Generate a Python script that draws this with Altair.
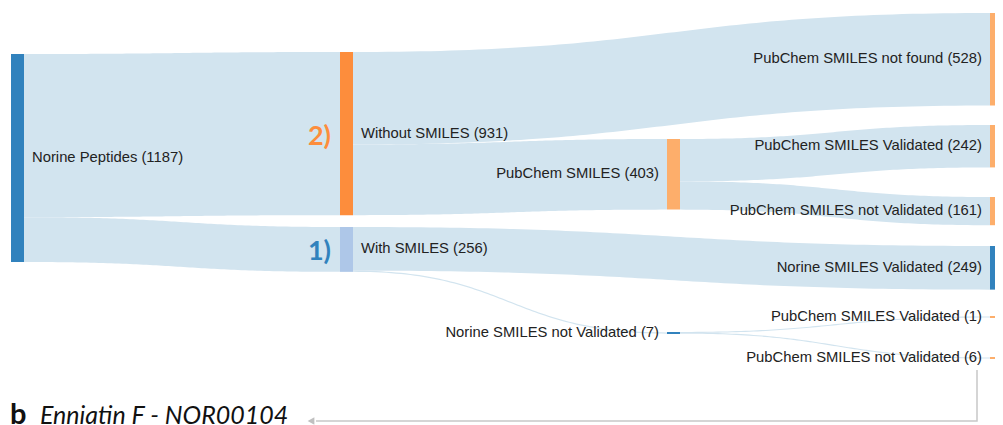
import altair as alt
import numpy as np
import pandas as pd

# ---------------- data ----------------
node_ids = ["norine", "without", "with", "pubchem", "norine_nv",
            "pc_notfound", "pc_val", "pc_nval", "norine_val", "pc_val_b", "pc_nval_b"]
node_labels = ["Norine Peptides", "Without SMILES", "With SMILES", "PubChem SMILES",
               "Norine SMILES not Validated", "PubChem SMILES not found",
               "PubChem SMILES Validated", "PubChem SMILES not Validated",
               "Norine SMILES Validated", "PubChem SMILES Validated",
               "PubChem SMILES not Validated"]

link_source = ["norine", "norine", "without", "without", "pubchem", "pubchem",
               "with", "with", "norine_nv", "norine_nv"]
link_target = ["without", "with", "pc_notfound", "pubchem", "pc_val", "pc_nval",
               "norine_val", "norine_nv", "pc_val_b", "pc_nval_b"]
link_value = [931, 256, 528, 403, 242, 161, 249, 7, 1, 6]

annot_nodes = ["without", "with"]
annot_texts = ["2)", "1)"]
caption_bold = "b"
caption_text = "Enniatin F - NOR00104"

# ---------------- style / layout ----------------
W, H = 987, 417
COL_X = [3, 332, 659, 982]   # left edge of each column of nodes
NODE_W = 13
K = 208 / 1187          # px per unit of flow
GAP_LABEL = 8
node_color = {
    "norine": "#3182bd", "without": "#fd8d3c", "with": "#aec7e8",
    "pubchem": "#fdae6b", "norine_nv": "#3182bd", "pc_notfound": "#fdae6b",
    "pc_val": "#fdae6b", "pc_nval": "#fdae6b", "norine_val": "#3182bd",
    "pc_val_b": "#fdae6b", "pc_nval_b": "#fdae6b",
}
annot_color = {"without": "#fd8d3c", "with": "#3182bd"}
# vertical placement of node tops (px from top of plot)
node_top = {
    "norine": 46, "without": 44, "with": 219, "pubchem": 131, "norine_nv": 324.4,
    "pc_notfound": 5, "pc_val": 117, "pc_nval": 189, "norine_val": 238,
    "pc_val_b": 308.9, "pc_nval_b": 349.5,
}
LINK_COLOR = "#d2e4ef"
FONT = "Liberation Sans"
FS = 14.8

# ---------------- layout computation ----------------
out_sum = {n: 0 for n in node_ids}
in_sum = {n: 0 for n in node_ids}
for s, t, v in zip(link_source, link_target, link_value):
    out_sum[s] += v
    in_sum[t] += v
node_value = {n: max(out_sum[n], in_sum[n]) for n in node_ids}

# depth (longest path from a source); sinks pushed to last column
depth = {n: 0 for n in node_ids}
changed = True
while changed:
    changed = False
    for s, t in zip(link_source, link_target):
        if depth[t] < depth[s] + 1:
            depth[t] = depth[s] + 1
            changed = True
max_depth = max(depth.values())
col = {n: (max_depth if out_sum[n] == 0 else depth[n]) for n in node_ids}

x_left = {n: COL_X[col[n]] for n in node_ids}
height = {n: node_value[n] * K for n in node_ids}

rows = []
for n, lab in zip(node_ids, node_labels):
    h = height[n]
    hd = max(h, 2.0)
    cy = node_top[n] + h / 2
    rows.append(dict(id=n, label=f"{lab} ({node_value[n]})", x=x_left[n],
                     x2=x_left[n] + NODE_W, y=cy - hd / 2, y2=cy + hd / 2,
                     cy=cy, color=node_color[n],
                     side="left" if x_left[n] < W / 2 else "right"))
nodes_df = pd.DataFrame(rows)
nodes_df["lx"] = np.where(nodes_df.side == "left", nodes_df.x2 + GAP_LABEL, nodes_df.x - GAP_LABEL)

# link bands
links = list(zip(link_source, link_target, link_value))
out_off = {n: 0.0 for n in node_ids}
in_off = {n: 0.0 for n in node_ids}
src_y, tgt_y = {}, {}
for n in node_ids:
    outs = sorted([i for i, l in enumerate(links) if l[0] == n], key=lambda i: node_top[links[i][1]])
    for i in outs:
        w = links[i][2] * K
        src_y[i] = node_top[n] + out_off[n] + w / 2
        out_off[n] += w
    ins = sorted([i for i, l in enumerate(links) if l[1] == n], key=lambda i: node_top[links[i][0]])
    for i in ins:
        w = links[i][2] * K
        tgt_y[i] = node_top[n] + in_off[n] + w / 2
        in_off[n] += w

t = np.linspace(0, 1, 80)
lrows = []
for i, (s, tg, v) in enumerate(links):
    x0 = x_left[s] + NODE_W
    x1 = x_left[tg]
    xm = (x0 + x1) / 2
    y0, y1 = src_y[i], tgt_y[i]
    w = max(v * K, 1.1)
    xs = (1 - t) ** 3 * x0 + 3 * (1 - t) ** 2 * t * xm + 3 * (1 - t) * t ** 2 * xm + t ** 3 * x1
    ys = (1 - t) ** 3 * y0 + 3 * (1 - t) ** 2 * t * y0 + 3 * (1 - t) * t ** 2 * y1 + t ** 3 * y1
    for xx, yy in zip(xs, ys):
        lrows.append(dict(link=i, x=xx, ylo=yy - w / 2, yhi=yy + w / 2))
links_df = pd.DataFrame(lrows)

xs_ = alt.Scale(domain=[0, W], nice=False, zero=False)
ys_ = alt.Scale(domain=[0, H], nice=False, zero=False, reverse=True)

link_layer = alt.Chart(links_df).mark_area(color=LINK_COLOR, opacity=1).encode(
    x=alt.X("x:Q", scale=xs_, axis=None),
    y=alt.Y("ylo:Q", scale=ys_, axis=None),
    y2="yhi:Q",
    detail="link:N",
)

node_layer = alt.Chart(nodes_df).mark_rect().encode(
    x=alt.X("x:Q", scale=xs_, axis=None), x2="x2:Q",
    y=alt.Y("y:Q", scale=ys_, axis=None), y2="y2:Q",
    color=alt.Color("color:N", scale=None),
)

label_left = alt.Chart(nodes_df).transform_filter(alt.datum.side == "left").mark_text(
    align="left", baseline="middle", font=FONT, fontSize=FS, color="#222222"
).encode(x=alt.X("lx:Q", scale=xs_, axis=None), y=alt.Y("cy:Q", scale=ys_, axis=None), text="label:N")

label_right = alt.Chart(nodes_df).transform_filter(alt.datum.side == "right").mark_text(
    align="right", baseline="middle", font=FONT, fontSize=FS, color="#222222"
).encode(x=alt.X("lx:Q", scale=xs_, axis=None), y=alt.Y("cy:Q", scale=ys_, axis=None), text="label:N")

annot_df = pd.DataFrame({
    "text": annot_texts,
    "x": [x_left[n] - 9 for n in annot_nodes],
    "y": [node_top[n] + height[n] / 2 + 3 for n in annot_nodes],
    "color": [annot_color[n] for n in annot_nodes],
})
annot_layer = alt.Chart(annot_df).mark_text(
    align="right", baseline="middle", font="Lato", fontWeight="bold", fontSize=27
).encode(x=alt.X("x:Q", scale=xs_, axis=None), y=alt.Y("y:Q", scale=ys_, axis=None),
         text="text:N", color=alt.Color("color:N", scale=None))

# caption and pointer arrow
cap_df = pd.DataFrame({"text": [caption_bold], "x": [2], "y": [416]})
cap_b = alt.Chart(cap_df).mark_text(
    align="left", baseline="alphabetic", font="Lato", fontWeight="bold", fontSize=29, color="#111111"
).encode(x=alt.X("x:Q", scale=xs_, axis=None), y=alt.Y("y:Q", scale=ys_, axis=None), text="text:N")
cap2_df = pd.DataFrame({"text": [caption_text], "x": [32], "y": [416]})
cap_t = alt.Chart(cap2_df).mark_text(
    align="left", baseline="alphabetic", font="Lato", fontStyle="italic", fontSize=25, color="#111111"
).encode(x=alt.X("x:Q", scale=xs_, axis=None), y=alt.Y("y:Q", scale=ys_, axis=None), text="text:N")

ptr_x = x_left["pc_nval_b"] - 13
ptr_df = pd.DataFrame({"x": [ptr_x, ptr_x, 308], "y": [362, 413, 413], "o": [0, 1, 2]})
ptr_line = alt.Chart(ptr_df).mark_line(color="#c8c8c8", strokeWidth=1.5).encode(
    x=alt.X("x:Q", scale=xs_, axis=None), y=alt.Y("y:Q", scale=ys_, axis=None), order="o:Q")
head_df = pd.DataFrame({"x": [303], "y": [413]})
ptr_head = alt.Chart(head_df).mark_point(shape="triangle-left", filled=True, color="#c0c0c0",
                                         size=60, opacity=1).encode(
    x=alt.X("x:Q", scale=xs_, axis=None), y=alt.Y("y:Q", scale=ys_, axis=None))

chart = alt.layer(link_layer, node_layer, label_left, label_right, annot_layer,
                  cap_b, cap_t, ptr_line, ptr_head).properties(
    width=W, height=H, padding=0, autosize=alt.AutoSizeParams(type="none")
).configure_view(stroke=None)

chart.save("out.html", embed_options={"renderer": "svg", "actions": False})
